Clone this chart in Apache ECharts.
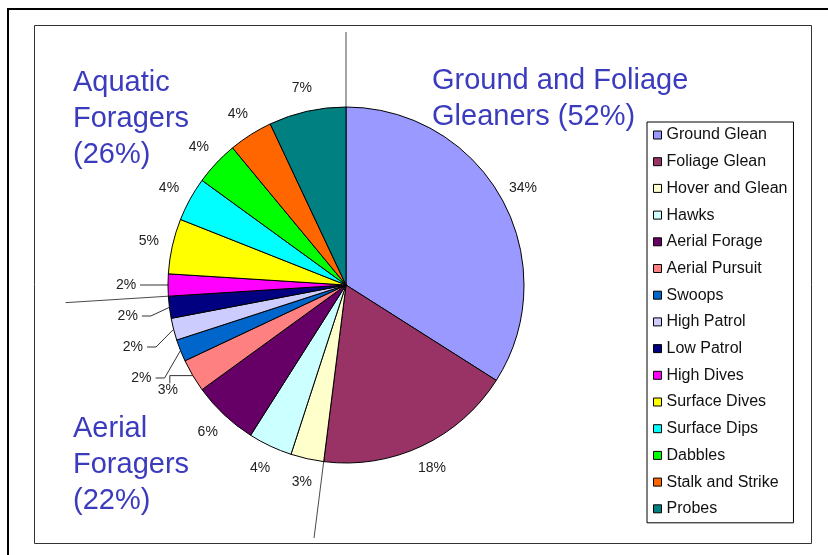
<!DOCTYPE html>
<html>
<head>
<meta charset="utf-8">
<title>Foraging guilds</title>
<script src="https://cdn.jsdelivr.net/npm/echarts@6/dist/echarts.min.js"></script>
<style>
  html, body { margin: 0; padding: 0; background: #fff; }
  #chart { width: 828px; height: 555px; }
</style>
</head>
<body>
<div id="chart"></div>
<script>
// Foraging behaviours, in drawing order (clockwise from 12 o'clock)
const categories = [
  'Ground Glean', 'Foliage Glean', 'Hover and Glean', 'Hawks', 'Aerial Forage',
  'Aerial Pursuit', 'Swoops', 'High Patrol', 'Low Patrol', 'High Dives',
  'Surface Dives', 'Surface Dips', 'Dabbles', 'Stalk and Strike', 'Probes'
];
// Share of observations, percent
const shares = [34, 18, 3, 4, 6, 3, 2, 2, 2, 2, 5, 4, 4, 4, 7];

// Guilds: consecutive runs of behaviours above
const guildNames = ['Ground and Foliage\nGleaners', 'Aerial\nForagers', 'Aquatic\nForagers'];
const guildSizes = [2, 7, 6];

// Slice colours (classic spreadsheet palette)
const palette = [
  '#9999FF', '#993366', '#FFFFCC', '#CCFFFF', '#660066',
  '#FF8080', '#0066CC', '#CCCCFF', '#000080', '#FF00FF',
  '#FFFF00', '#00FFFF', '#00FF00', '#FF6600', '#008080'
];

const FONT = '"Liberation Sans", Arial, sans-serif';
const TITLE_BLUE = '#3b3bbd';
const CX = 346, CY = 285, R = 178;

// Guild totals and their start positions on the pie (percent around the circle)
const guildTotals = [];
const guildStarts = [];
{
  let idx = 0, cum = 0;
  guildSizes.forEach(n => {
    guildStarts.push(cum);
    let s = 0;
    for (let k = 0; k < n; k++) s += shares[idx + k];
    guildTotals.push(s);
    idx += n;
    cum += s;
  });
}
const totalShare = shares.reduce((a, b) => a + b, 0);

// Mid-angle of every slice (radians, clockwise from 12 o'clock)
const sliceStarts = [];
shares.reduce((cum, v) => { sliceStarts.push(cum); return cum + v; }, 0);
const midAngle = i => (sliceStarts[i] + shares[i] / 2) / totalShare * Math.PI * 2;
const polarPoint = (a, d) => [CX + d * Math.sin(a), CY - d * Math.cos(a)];

// Thin slices on the left whose labels hang off a leader line
const leaderSlices = new Set(['Swoops', 'High Patrol', 'Low Patrol', 'High Dives']);
// Slice whose label is tied back with a short bracket
const bracketSlices = new Set(['Aerial Pursuit']);

// Leader labels sit on their mid-angle, pushed down so that they keep a minimum spacing
const LEADER_DIST = 220, LEADER_GAP = 31;
const leaderPos = {};
{
  let prevY = -Infinity;
  for (let i = categories.length - 1; i >= 0; i--) {
    if (!leaderSlices.has(categories[i])) continue;
    const [x, y0] = polarPoint(midAngle(i), LEADER_DIST);
    const y = Math.max(y0, prevY + LEADER_GAP);
    leaderPos[i] = [x, y];
    prevY = y;
  }
}

const pieData = categories.map((name, i) => {
  const item = { name, value: shares[i], itemStyle: { color: palette[i] } };
  if (leaderSlices.has(name) || bracketSlices.has(name)) {
    item.labelLine = { show: true };
  }
  return item;
});

// Place every percentage label around the rim, centred on its slice's mid-angle
function layoutLabel(params) {
  const i = params.dataIndex;
  const name = categories[i];
  const a = midAngle(i);
  const w = params.labelRect.width, h = params.labelRect.height;
  const edge = polarPoint(a, R);
  if (leaderSlices.has(name)) {
    const [lx, ly] = leaderPos[i];
    const tail = lx + w / 2 + 4;
    return {
      x: lx, y: ly, align: 'center', verticalAlign: 'middle',
      labelLinePoints: [edge, [tail + 9, ly], [tail, ly]]
    };
  }
  if (bracketSlices.has(name)) {
    const [lx, ly] = polarPoint(a, 207);
    return {
      x: lx, y: ly, align: 'center', verticalAlign: 'middle',
      labelLinePoints: [edge, [lx + 2, edge[1]], [lx + 2, ly - h / 2]]
    };
  }
  const [lx, ly] = polarPoint(a, 202);
  return { x: lx, y: ly, align: 'center', verticalAlign: 'middle' };
}

// Divider spokes between guilds, drawn in a polar system sharing the pie's centre
const spokeLengths = [253, 255, 281];
const spokeSeries = guildStarts.map((start, g) => ({
  type: 'line',
  coordinateSystem: 'polar',
  symbol: 'none',
  silent: true,
  z: 1,
  lineStyle: { color: '#4a4a4a', width: 1 },
  data: [[0, start], [spokeLengths[g], start]]
}));

// Guild headings: the first keeps its total on the last line, the others stack it below
const titleText = (g) => guildNames[g] + (g === 0 ? ' ' : '\n') + '(' + guildTotals[g] + '%)';
const titleStyle = {
  fontFamily: FONT, fontSize: 29, fontWeight: 'normal',
  color: TITLE_BLUE, lineHeight: 36
};

const chart = echarts.init(document.getElementById('chart'), null, { renderer: 'canvas' });
chart.setOption({
  animation: false,
  backgroundColor: '#fff',
  title: [
    { text: titleText(0), left: 432, top: 63, textStyle: titleStyle, padding: 0 },
    { text: titleText(2), left: 73, top: 65, textStyle: titleStyle, padding: 0 },
    { text: titleText(1), left: 73, top: 411, textStyle: titleStyle, padding: 0 }
  ],
  graphic: [
    { type: 'rect', shape: { x: 8, y: 9, width: 840, height: 570 }, style: { fill: 'none', stroke: '#000', lineWidth: 2 }, silent: true, z: -10 },
    { type: 'rect', shape: { x: 34.5, y: 25.5, width: 777, height: 518 }, style: { fill: 'none', stroke: '#333', lineWidth: 1 }, silent: true, z: -10 }
  ],
  legend: {
    orient: 'vertical',
    left: 647,
    top: 122,
    padding: [5, 6, 6, 6],
    borderColor: '#000',
    borderWidth: 1,
    itemWidth: 8,
    itemHeight: 8,
    itemGap: 10.7,
    icon: 'rect',
    itemStyle: { borderColor: '#000', borderWidth: 1 },
    textStyle: { fontFamily: FONT, fontSize: 16, color: '#111', lineHeight: 16 },
    data: categories
  },
  polar: { center: [CX, CY], radius: 300 },
  angleAxis: { type: 'value', min: 0, max: totalShare, startAngle: 90, clockwise: true, show: false },
  radiusAxis: { type: 'value', min: 0, max: 300, show: false },
  series: [
    ...spokeSeries,
    {
      type: 'pie',
      z: 2,
      center: [CX, CY],
      radius: R,
      startAngle: 90,
      clockwise: true,
      avoidLabelOverlap: false,
      itemStyle: { borderColor: '#000', borderWidth: 1 },
      label: {
        show: true,
        position: 'outside',
        formatter: '{c}%',
        fontFamily: FONT,
        fontSize: 14,
        color: '#222'
      },
      labelLine: { show: false, length: 10, length2: 10, lineStyle: { color: '#333', width: 1 } },
      labelLayout: layoutLabel,
      emphasis: { disabled: true },
      data: pieData
    }
  ]
});
</script>
</body>
</html>
